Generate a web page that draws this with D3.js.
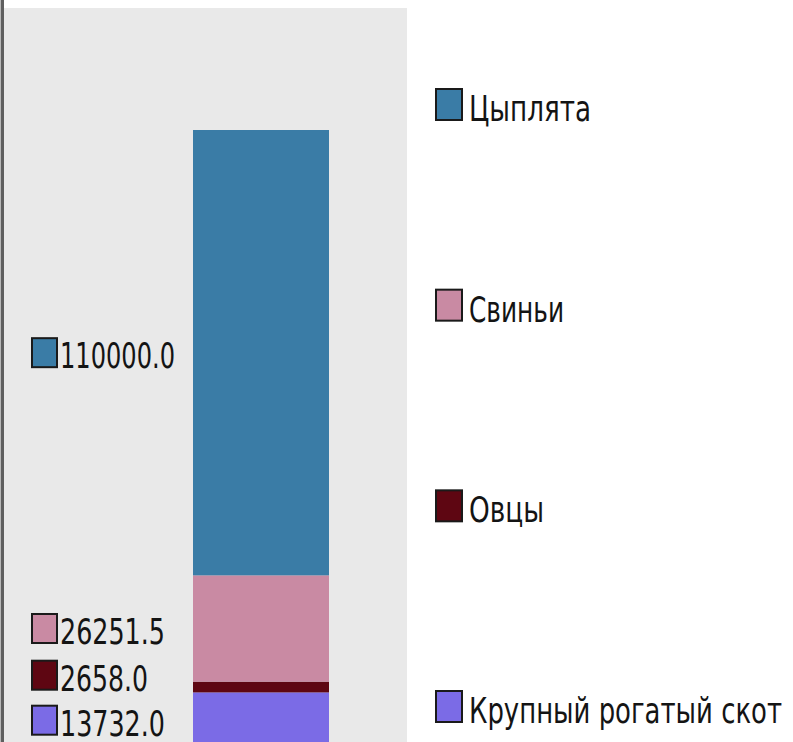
<!DOCTYPE html>
<html>
<head>
<meta charset="utf-8">
<script src="https://cdn.jsdelivr.net/npm/d3@7/dist/d3.min.js"></script>
<style>
  html, body { margin: 0; padding: 0; background: #ffffff; }
  svg { display: block; }
  text { font-family: "Liberation Sans Narrow", "DejaVu Sans Condensed", "Liberation Sans", sans-serif; fill: #141414; }
</style>
</head>
<body>
<svg id="chart" width="793" height="742"></svg>
<script>
// ---- data (bottom to top of the stack) ----
const categories = ["Крупный рогатый скот", "Овцы", "Свиньи", "Цыплята"];
const values = [13732.0, 2658.0, 26251.5, 110000.0];
const valueLabels = ["13732.0", "2658.0", "26251.5", "110000.0"];
const colors = ["#7b6be6", "#5e0612", "#c98aa3", "#3a7ca6"];

const W = 793, H = 742;
const svg = d3.select("#chart");

// plot background
svg.append("rect").attr("x", 4).attr("y", 8).attr("width", 403).attr("height", H - 8).attr("fill", "#e9e9e9");
// left frame line
svg.append("rect").attr("x", 0).attr("y", 0).attr("width", 1).attr("height", H).attr("fill", "#b8b8b8");
svg.append("rect").attr("x", 1).attr("y", 0).attr("width", 3).attr("height", H).attr("fill", "#5f5f5f");

// stacked data
const stackData = [Object.fromEntries(categories.map((c, i) => [c, values[i]]))];
const series = d3.stack().keys(categories)(stackData);
const total = d3.sum(values);

const y = d3.scaleLinear().domain([0, total]).range([748, 130]);
const x = d3.scaleBand().domain(["all"]).range([193, 329]).padding(0);

const color = d3.scaleOrdinal().domain(categories).range(colors);

svg.append("g").selectAll("rect").data(series).join("rect")
  .attr("x", x("all"))
  .attr("width", x.bandwidth())
  .attr("y", d => y(d[0][1]))
  .attr("height", d => y(d[0][0]) - y(d[0][1]))
  .attr("fill", d => color(d.key));

// fit text widths to the narrow bitmap-like font of the original
function fitText(sel, targetPerChar) {
  sel.each(function () {
    const t = d3.select(this);
    const txt = t.text();
    const want = targetPerChar(txt);
    if (want) t.attr("textLength", want).attr("lengthAdjust", "spacingAndGlyphs");
  });
}
const valueWidths = { "110000.0": 115, "26251.5": 105, "2658.0": 88, "13732.0": 105 };
const legendWidths = { "Цыплята": 122, "Свиньи": 95, "Овцы": 75, "Крупный рогатый скот": 313 };

// data labels with simple collision avoidance
const fs = 35;
const gap = 45;
let labels = series.map((s, i) => ({
  key: s.key,
  text: valueLabels[i],
  base: (y(s[0][0]) + y(s[0][1])) / 2 + 15.5
}));
labels.sort((a, b) => b.base - a.base); // bottom first
for (let i = 1; i < labels.length; i++) {
  labels[i].base = Math.min(labels[i].base, labels[i - 1].base - gap);
}

const lg = svg.append("g");
labels.forEach(l => {
  lg.append("rect")
    .attr("x", 32).attr("y", l.base - 30)
    .attr("width", 25).attr("height", 29)
    .attr("fill", color(l.key)).attr("stroke", "#1a1a1a").attr("stroke-width", 2);
  lg.append("text")
    .attr("x", 60).attr("y", l.base)
    .attr("font-size", fs)
    .text(l.text)
    .call(fitText, t => valueWidths[t]);
});

// legend (top to bottom: last series first)
const legendOrder = categories.slice().reverse();
const ly = d3.scalePoint().domain(legendOrder).range([121, 723]);
const leg = svg.append("g");
legendOrder.forEach(c => {
  const b = ly(c);
  leg.append("rect")
    .attr("x", 436).attr("y", b - 32)
    .attr("width", 26).attr("height", 31)
    .attr("fill", color(c)).attr("stroke", "#1a1a1a").attr("stroke-width", 2);
  leg.append("text")
    .attr("x", 469).attr("y", b)
    .attr("font-size", fs)
    .text(c)
    .call(fitText, t => legendWidths[t]);
});
</script>
</body>
</html>
